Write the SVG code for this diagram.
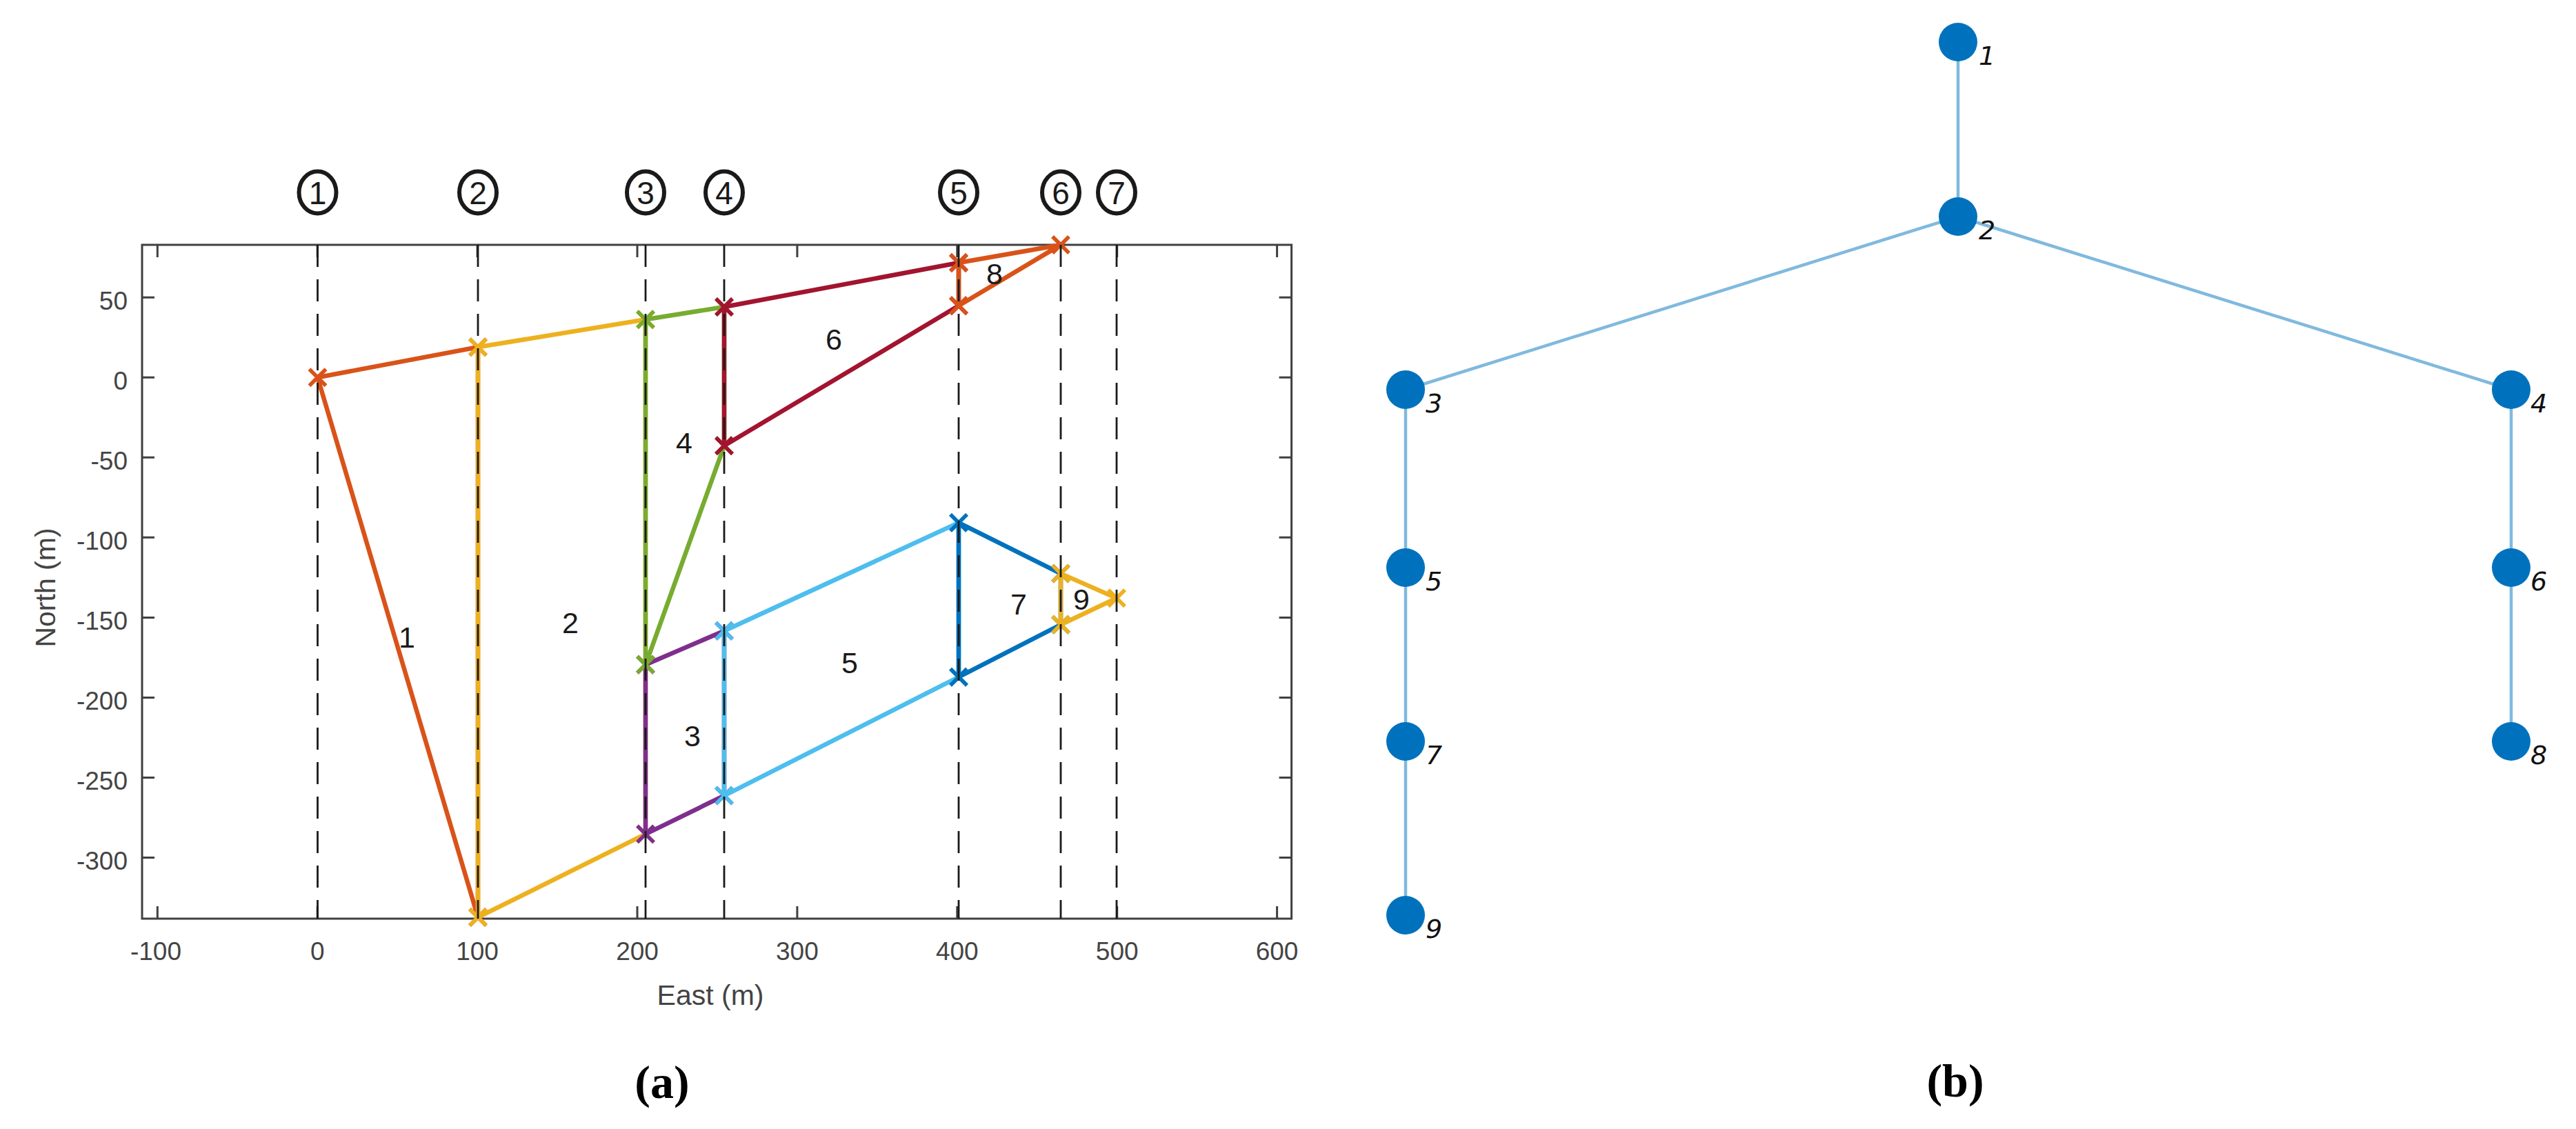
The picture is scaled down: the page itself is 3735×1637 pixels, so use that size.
<svg xmlns="http://www.w3.org/2000/svg" xmlns:xlink="http://www.w3.org/1999/xlink" width="3735" height="1637" viewBox="0 0 3735 1637">
<style>
.ax{stroke:#404040;stroke-width:3;fill:none}
.tl{font-family:"Liberation Sans",Arial,sans-serif;font-size:37px;fill:#444}
.al{font-family:"Liberation Sans",Arial,sans-serif;font-size:41px;fill:#444}
.dash{stroke:#1a1a1a;stroke-width:2.8;stroke-dasharray:32 18;fill:none}
.el{fill:none;stroke-width:6.5;stroke-linejoin:round}
.en{font-family:"Liberation Sans",Arial,sans-serif;font-size:43px;fill:#1a1a1a;text-anchor:middle}
.cl{fill:none;stroke:#1a1a1a;stroke-width:6}
.cn{font-family:"Liberation Sans",Arial,sans-serif;font-size:46px;fill:#1a1a1a;text-anchor:middle}
.cap{font-family:"Liberation Serif","Times New Roman",serif;font-size:68px;font-weight:bold;fill:#000;text-anchor:middle}
.edge{stroke:#80B9DE;stroke-width:4.5;fill:none}
.node{fill:#0072BD}
.nl{font-family:"DejaVu Sans",sans-serif;font-style:italic;font-size:38px;fill:#111;text-anchor:middle}
</style>
<defs>
<path id="x" d="M-12,-12L12,12M-12,12L12,-12" stroke-width="5.5" fill="none"/>
</defs>
<rect width="3735" height="1637" fill="#fff"/>

<!-- Panel (a) axes -->
<g id="axes">
<rect class="ax" x="206" y="355" width="1666.6" height="977"/>
<path class="ax" d="M228.3,355v18M460.2,355v18M692.1,355v18M924,355v18M1155.9,355v18M1387.8,355v18M1619.7,355v18M1851.6,355v18M228.3,1332v-18M460.2,1332v-18M692.1,1332v-18M924,1332v-18M1155.9,1332v-18M1387.8,1332v-18M1619.7,1332v-18M1851.6,1332v-18M206,431.2h18M206,547.2h18M206,663.3h18M206,779.3h18M206,895.4h18M206,1011.4h18M206,1127.5h18M206,1243.6h18M1872.6,431.2h-18M1872.6,547.2h-18M1872.6,663.3h-18M1872.6,779.3h-18M1872.6,895.4h-18M1872.6,1011.4h-18M1872.6,1127.5h-18M1872.6,1243.6h-18"/>
<g class="tl" text-anchor="middle">
<text x="226" y="1392">-100</text><text x="460.2" y="1392">0</text><text x="692.1" y="1392">100</text><text x="924" y="1392">200</text><text x="1155.9" y="1392">300</text><text x="1387.8" y="1392">400</text><text x="1619.7" y="1392">500</text><text x="1851.6" y="1392">600</text>
</g>
<g class="tl" text-anchor="end">
<text x="185" y="448.5">50</text><text x="185" y="564.5">0</text><text x="185" y="680.5">-50</text><text x="185" y="796.5">-100</text><text x="185" y="912.5">-150</text><text x="185" y="1028.5">-200</text><text x="185" y="1144.5">-250</text><text x="185" y="1260.5">-300</text>
</g>
<text class="al" x="1030" y="1457" text-anchor="middle">East (m)</text>
<text class="al" transform="translate(80,852) rotate(-90)" text-anchor="middle">North (m)</text>
</g>

<!-- Elements -->
<g id="element1"><polygon class="el" stroke="#D95319" points="460.5,547.2 693,503.3 693,1330"/>
<g stroke="#D95319"><use xlink:href="#x" x="460.5" y="547.2"/><use xlink:href="#x" x="693" y="503.3"/><use xlink:href="#x" x="693" y="1330"/></g></g>
<g id="element2"><polygon class="el" stroke="#EDB120" points="693,503.3 936,463.3 936,1209.4 693,1330"/>
<g stroke="#EDB120"><use xlink:href="#x" x="693" y="503.3"/><use xlink:href="#x" x="936" y="463.3"/><use xlink:href="#x" x="936" y="1209.4"/><use xlink:href="#x" x="693" y="1330"/></g></g>
<g id="element3"><polygon class="el" stroke="#7E2F8E" points="936,963.8 1050,914.7 1050,1153.6 936,1209.4"/>
<g stroke="#7E2F8E"><use xlink:href="#x" x="936" y="963.8"/><use xlink:href="#x" x="1050" y="914.7"/><use xlink:href="#x" x="1050" y="1153.6"/><use xlink:href="#x" x="936" y="1209.4"/></g></g>
<g id="element4"><polygon class="el" stroke="#77AC30" points="936,463.3 1050,445 1050,646.3 936,963.8"/>
<g stroke="#77AC30"><use xlink:href="#x" x="936" y="463.3"/><use xlink:href="#x" x="1050" y="445"/><use xlink:href="#x" x="1050" y="646.3"/><use xlink:href="#x" x="936" y="963.8"/></g></g>
<g id="element5"><polygon class="el" stroke="#4DBEEE" points="1050,914.7 1390,757.9 1390,981.7 1050,1153.6"/>
<g stroke="#4DBEEE"><use xlink:href="#x" x="1050" y="914.7"/><use xlink:href="#x" x="1390" y="757.9"/><use xlink:href="#x" x="1390" y="981.7"/><use xlink:href="#x" x="1050" y="1153.6"/></g></g>
<g id="element6"><polygon class="el" stroke="#A2142F" points="1050,445 1390,381 1390,443.3 1050,646.3"/>
<g stroke="#A2142F"><use xlink:href="#x" x="1050" y="445"/><use xlink:href="#x" x="1390" y="381"/><use xlink:href="#x" x="1390" y="443.3"/><use xlink:href="#x" x="1050" y="646.3"/></g></g>
<g id="element7"><polygon class="el" stroke="#0072BD" points="1390,757.9 1538,831.6 1538,905.8 1390,981.7"/>
<g stroke="#0072BD"><use xlink:href="#x" x="1390" y="757.9"/><use xlink:href="#x" x="1538" y="831.6"/><use xlink:href="#x" x="1538" y="905.8"/><use xlink:href="#x" x="1390" y="981.7"/></g></g>
<g id="element8"><polygon class="el" stroke="#D95319" points="1390,381 1538,355 1390,443.3"/>
<g stroke="#D95319"><use xlink:href="#x" x="1390" y="381"/><use xlink:href="#x" x="1538" y="355"/><use xlink:href="#x" x="1390" y="443.3"/></g></g>
<g id="element9"><polygon class="el" stroke="#EDB120" points="1538,831.6 1619,867.3 1538,905.8"/>
<g stroke="#EDB120"><use xlink:href="#x" x="1538" y="831.6"/><use xlink:href="#x" x="1619" y="867.3"/><use xlink:href="#x" x="1538" y="905.8"/></g></g>

<!-- Dashed section lines -->
<g id="sections">
<path class="dash" d="M460.5,355V1332M693,355V1332M936,355V1332M1050,355V1332M1390,355V1332M1538,355V1332M1619,355V1332"/>
<g id="sec1"><ellipse class="cl" cx="460.5" cy="279" rx="27" ry="30.5"/><text class="cn" x="460.5" y="295.5">1</text></g>
<g id="sec2"><ellipse class="cl" cx="693" cy="279" rx="27" ry="30.5"/><text class="cn" x="693" y="295.5">2</text></g>
<g id="sec3"><ellipse class="cl" cx="936" cy="279" rx="27" ry="30.5"/><text class="cn" x="936" y="295.5">3</text></g>
<g id="sec4"><ellipse class="cl" cx="1050" cy="279" rx="27" ry="30.5"/><text class="cn" x="1050" y="295.5">4</text></g>
<g id="sec5"><ellipse class="cl" cx="1390" cy="279" rx="27" ry="30.5"/><text class="cn" x="1390" y="295.5">5</text></g>
<g id="sec6"><ellipse class="cl" cx="1538" cy="279" rx="27" ry="30.5"/><text class="cn" x="1538" y="295.5">6</text></g>
<g id="sec7"><ellipse class="cl" cx="1619" cy="279" rx="27" ry="30.5"/><text class="cn" x="1619" y="295.5">7</text></g>
</g>

<!-- Element numbers -->
<g id="elementlabels">
<text class="en" x="590" y="939">1</text>
<text class="en" x="827" y="918">2</text>
<text class="en" x="1004" y="1082">3</text>
<text class="en" x="992" y="657">4</text>
<text class="en" x="1232" y="976">5</text>
<text class="en" x="1209" y="507">6</text>
<text class="en" x="1477" y="891">7</text>
<text class="en" x="1442" y="412">8</text>
<text class="en" x="1568" y="884">9</text>
</g>

<text class="cap" x="960" y="1592">(a)</text>
<text class="cap" x="2835" y="1590">(b)</text>

<!-- Panel (b) graph -->
<g id="connectors">
<line class="edge" x1="2839" y1="61" x2="2839" y2="314"/>
<line class="edge" x1="2839" y1="314" x2="2038" y2="565"/>
<line class="edge" x1="2839" y1="314" x2="3641" y2="565"/>
<line class="edge" x1="2038" y1="565" x2="2038" y2="823"/>
<line class="edge" x1="2038" y1="823" x2="2038" y2="1075"/>
<line class="edge" x1="2038" y1="1075" x2="2038" y2="1327"/>
<line class="edge" x1="3641" y1="565" x2="3641" y2="823"/>
<line class="edge" x1="3641" y1="823" x2="3641" y2="1075"/>
</g>
<g id="node1"><circle class="node" cx="2839" cy="61" r="28"/><text class="nl" x="2881" y="94">1</text></g>
<g id="node2"><circle class="node" cx="2839" cy="314" r="28"/><text class="nl" x="2881" y="347">2</text></g>
<g id="node3"><circle class="node" cx="2038" cy="565" r="28"/><text class="nl" x="2079" y="598">3</text></g>
<g id="node4"><circle class="node" cx="3641" cy="565" r="28"/><text class="nl" x="3681" y="598">4</text></g>
<g id="node5"><circle class="node" cx="2038" cy="823" r="28"/><text class="nl" x="2079" y="856">5</text></g>
<g id="node6"><circle class="node" cx="3641" cy="823" r="28"/><text class="nl" x="3681" y="856">6</text></g>
<g id="node7"><circle class="node" cx="2038" cy="1075" r="28"/><text class="nl" x="2079" y="1108">7</text></g>
<g id="node8"><circle class="node" cx="3641" cy="1075" r="28"/><text class="nl" x="3681" y="1108">8</text></g>
<g id="node9"><circle class="node" cx="2038" cy="1327" r="28"/><text class="nl" x="2079" y="1360">9</text></g>
</svg>
